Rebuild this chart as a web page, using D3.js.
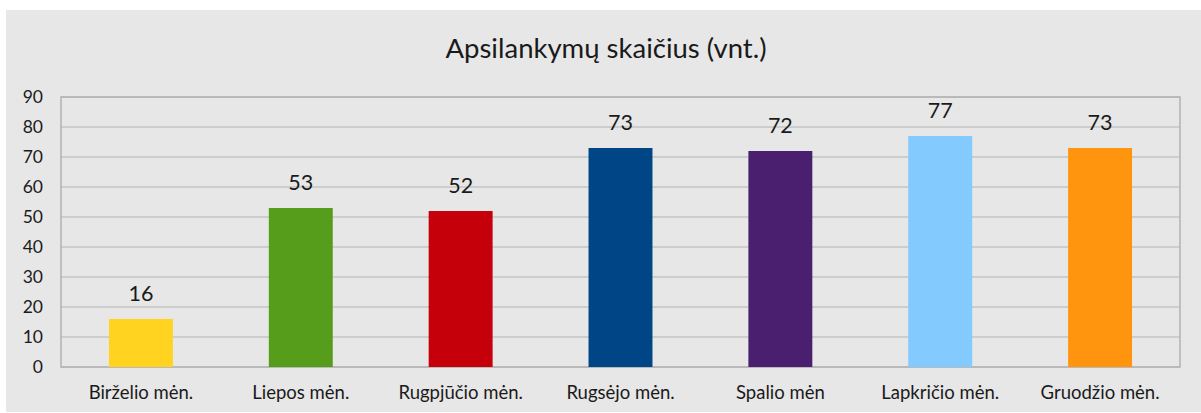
<!DOCTYPE html>
<html>
<head>
<meta charset="utf-8">
<script src="https://cdn.jsdelivr.net/npm/d3@7"></script>
<style>
  body { margin: 0; background: #fff; }
  svg { display: block; font-family: Lato, "Open Sans", sans-serif; }
</style>
</head>
<body>
<svg id="chart" width="1201" height="413"></svg>
<script>
const months = ["Birželio mėn.", "Liepos mėn.", "Rugpjūčio mėn.", "Rugsėjo mėn.", "Spalio mėn", "Lapkričio mėn.", "Gruodžio mėn."];
const visits = [16, 53, 52, 73, 72, 77, 73];
const barColors = ["#ffd320", "#579d1c", "#c5000b", "#004586", "#4b1f6f", "#83caff", "#ff950e"];
const yTicks = [0, 10, 20, 30, 40, 50, 60, 70, 80, 90];

const svg = d3.select("#chart");
const W = 1201, H = 413;
const margin = {top: 97, right: 21, bottom: 46, left: 61};
const width = W - margin.left - margin.right;
const height = H - margin.top - margin.bottom;

// grey chart panel
svg.append("rect")
    .attr("x", 6).attr("y", 10)
    .attr("width", W - 6).attr("height", H - 11)
    .attr("fill", "#e7e7e7");

svg.append("text")
    .attr("x", 606).attr("y", 58)
    .attr("text-anchor", "middle")
    .attr("font-size", 27.5)
    .attr("fill", "#1a1a1a")
    .text("Apsilankymų skaičius (vnt.)");

const g = svg.append("g").attr("transform", `translate(${margin.left},${margin.top})`);

const x = d3.scaleBand().domain(months).range([0, width]).paddingInner(0.6).paddingOuter(0.3);
const y = d3.scaleLinear().domain([0, 90]).range([height, 0]);

// gridlines
g.append("g")
    .selectAll("line")
    .data(yTicks)
    .enter()
    .append("line")
    .attr("x1", 0).attr("x2", width)
    .attr("y1", d => y(d)).attr("y2", d => y(d))
    .attr("stroke", "#b3b3b3")
    .attr("stroke-width", 1);

// plot border
g.append("rect")
    .attr("x", 0).attr("y", 0)
    .attr("width", width).attr("height", height)
    .attr("fill", "none")
    .attr("stroke", "#b3b3b3")
    .attr("stroke-width", 1.5);

const yAxis = g.append("g")
    .call(d3.axisLeft(y).tickValues(yTicks).tickSize(0).tickPadding(18));
yAxis.select(".domain").remove();
yAxis.selectAll("text")
    .attr("font-family", "Lato, sans-serif")
    .attr("font-size", 17.5)
    .attr("fill", "#1a1a1a");

const xAxis = g.append("g")
    .attr("transform", `translate(0,${height})`)
    .call(d3.axisBottom(x).tickSize(0).tickPadding(19));
xAxis.select(".domain").remove();
xAxis.selectAll("text")
    .attr("font-family", "Lato, sans-serif")
    .attr("font-size", 18.5)
    .attr("fill", "#1a1a1a");

// bars
g.append("g")
    .selectAll("rect")
    .data(visits)
    .enter()
    .append("rect")
    .attr("x", (d, i) => x(months[i]))
    .attr("y", d => y(d))
    .attr("width", x.bandwidth())
    .attr("height", d => height - y(d))
    .attr("fill", (d, i) => barColors[i]);

// value labels
g.append("g")
    .selectAll("text")
    .data(visits)
    .enter()
    .append("text")
    .attr("x", (d, i) => x(months[i]) + x.bandwidth() / 2)
    .attr("y", d => y(d) - 18)
    .attr("text-anchor", "middle")
    .attr("font-size", 21.5)
    .attr("fill", "#1a1a1a")
    .text(d => d);
</script>
</body>
</html>
